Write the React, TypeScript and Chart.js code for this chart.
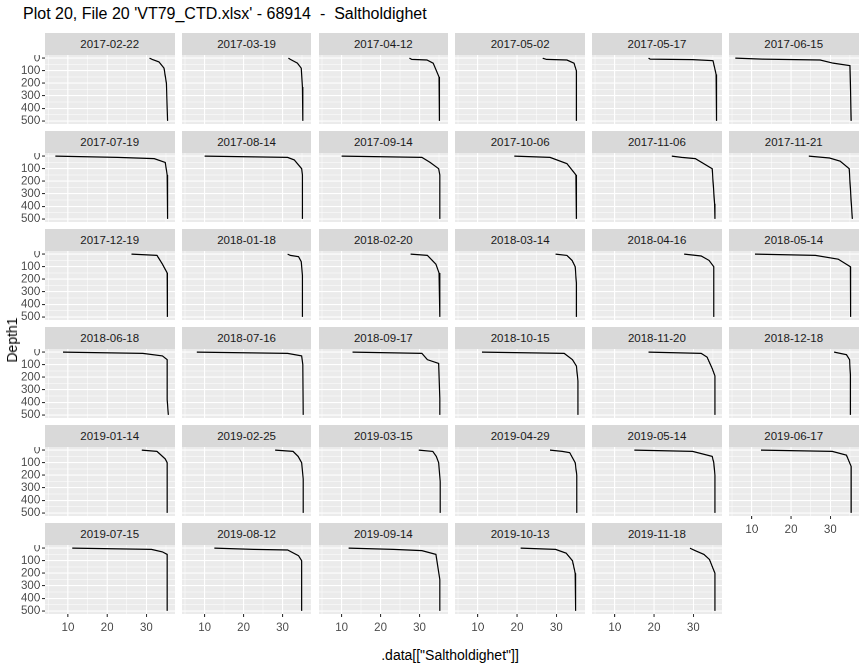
import { Chart, registerables } from "chart.js";
import React, { useEffect, useRef } from "react";

Chart.register(...registerables);

const dates = [
  "2017-02-22", "2017-03-19", "2017-04-12", "2017-05-02", "2017-05-17", "2017-06-15",
  "2017-07-19", "2017-08-14", "2017-09-14", "2017-10-06", "2017-11-06", "2017-11-21",
  "2017-12-19", "2018-01-18", "2018-02-20", "2018-03-14", "2018-04-16", "2018-05-14",
  "2018-06-18", "2018-07-16", "2018-09-17", "2018-10-15", "2018-11-20", "2018-12-18",
  "2019-01-14", "2019-02-25", "2019-03-15", "2019-04-29", "2019-05-14", "2019-06-17",
  "2019-07-15", "2019-08-12", "2019-09-14", "2019-10-13", "2019-11-18",
];

// salinity readings per cast (surface first)
const salinity: number[][] = [
  [30.8, 31.5, 33.2, 34.5, 35.1, 35.4],
  [31.5, 32.0, 33.8, 34.8, 35.1, 35.2],
  [27.4, 28.0, 31.9, 33.5, 35.0, 35.1],
  [26.5, 27.5, 32.7, 34.5, 35.1, 35.1],
  [18.6, 19.0, 29.8, 35.0, 35.8, 35.9],
  [5.8, 12.7, 27.4, 30.7, 35.0, 35.3],
  [6.8, 22.6, 32.0, 34.8, 35.3, 35.4],
  [10.0, 31.3, 33.0, 34.9, 35.1, 35.1],
  [10.0, 30.6, 32.7, 34.9, 35.2, 35.2],
  [19.3, 28.4, 32.7, 35.0, 35.1, 35.1],
  [24.5, 27.0, 30.5, 34.8, 35.4, 35.5],
  [24.5, 29.8, 32.5, 34.8, 35.3, 35.6],
  [26.2, 32.7, 34.1, 35.3, 35.3, 35.4],
  [31.3, 32.0, 34.1, 34.8, 35.1, 35.1],
  [27.7, 32.0, 34.2, 35.0, 35.2, 35.2],
  [29.8, 32.7, 34.0, 34.8, 35.1, 35.1],
  [27.7, 32.0, 34.0, 35.2, 35.2, 35.2],
  [10.8, 26.2, 32.0, 35.1, 35.1, 35.2],
  [8.7, 29.1, 34.1, 35.3, 35.3, 35.6],
  [8.0, 31.3, 34.9, 35.2, 35.2, 35.3],
  [12.8, 30.6, 32.0, 34.9, 35.2, 35.2],
  [11.1, 32.0, 34.1, 35.1, 35.5, 35.5],
  [18.6, 32.0, 33.5, 34.8, 35.5, 35.5],
  [31.0, 32.5, 34.1, 34.9, 35.1, 35.1],
  [28.8, 32.7, 34.8, 35.3, 35.3, 35.3],
  [28.1, 32.7, 34.0, 34.9, 35.3, 35.3],
  [29.8, 33.4, 34.3, 34.9, 35.3, 35.3],
  [28.4, 31.5, 33.4, 34.8, 35.2, 35.2],
  [15.0, 29.8, 34.8, 35.2, 35.5, 35.5],
  [12.3, 30.5, 34.1, 35.3, 35.3, 35.3],
  [11.1, 31.3, 34.1, 35.3, 35.3, 35.3],
  [12.5, 22.6, 31.3, 34.1, 34.9, 34.9],
  [11.8, 23.3, 30.6, 34.2, 35.2, 35.2],
  [20.9, 29.8, 32.5, 34.1, 34.8, 34.9],
  [29.1, 30.5, 32.7, 34.1, 35.5, 35.5],
];

const depths: number[][] = [
  [0, 10, 30, 80, 200, 500],
  [0, 10, 40, 80, 230, 500],
  [0, 10, 15, 40, 150, 500],
  [0, 10, 15, 40, 100, 500],
  [0, 8, 12, 20, 130, 500],
  [0, 8, 15, 40, 60, 500],
  [0, 10, 20, 50, 150, 500],
  [0, 10, 30, 100, 150, 500],
  [0, 10, 50, 100, 150, 500],
  [0, 10, 60, 150, 300, 500],
  [0, 10, 20, 100, 380, 500],
  [0, 15, 40, 100, 360, 500],
  [0, 10, 80, 150, 300, 500],
  [0, 10, 20, 60, 170, 500],
  [0, 10, 80, 150, 180, 500],
  [0, 10, 50, 100, 230, 500],
  [0, 15, 50, 100, 200, 500],
  [0, 10, 40, 100, 200, 500],
  [0, 10, 30, 60, 380, 500],
  [0, 10, 30, 100, 120, 500],
  [0, 10, 60, 90, 370, 500],
  [0, 10, 60, 110, 230, 500],
  [0, 10, 40, 130, 190, 500],
  [0, 10, 20, 60, 180, 500],
  [0, 10, 70, 100, 300, 500],
  [0, 10, 50, 100, 230, 500],
  [0, 10, 50, 100, 250, 500],
  [0, 10, 20, 100, 200, 500],
  [0, 10, 50, 100, 200, 500],
  [0, 10, 40, 130, 300, 500],
  [0, 10, 30, 50, 300, 500],
  [0, 10, 15, 60, 100, 500],
  [0, 10, 20, 50, 250, 500],
  [0, 10, 40, 100, 200, 500],
  [0, 20, 50, 90, 200, 500],
];

const xTicks = [5, 10, 15, 20, 25, 30, 35];
const xLabels = [10, 20, 30];
const yTicks = [0, 50, 100, 150, 200, 250, 300, 350, 400, 450, 500];
const yLabels = [0, 100, 200, 300, 400, 500];

const PLOT_LEFT = 45;
const PLOT_W = 129.5;
const COL_STEP = 136.8;
const STRIP_TOP = 33;
const STRIP_H = 22;
const PLOT_H = 69;
const ROW_STEP = 98;
const Y_AXIS_W = 37;
const X_AXIS_H = 22;
const FONT = "'Liberation Sans', Arial, sans-serif";

const bgPlugin = {
  id: "panelBg",
  beforeDraw(chart: Chart) {
    const { ctx, chartArea } = chart;
    ctx.save();
    ctx.fillStyle = "#EBEBEB";
    ctx.fillRect(chartArea.left, chartArea.top, chartArea.right - chartArea.left, chartArea.bottom - chartArea.top);
    ctx.restore();
  },
};

const Panel: React.FC<{ idx: number; showY: boolean; showX: boolean }> = ({ idx, showY, showX }) => {
  const ref = useRef<HTMLCanvasElement | null>(null);
  const col = idx % 6;
  const row = Math.floor(idx / 6);
  const w = PLOT_W + (showY ? Y_AXIS_W : 0);
  const h = PLOT_H + (showX ? X_AXIS_H : 0);
  const left = PLOT_LEFT + col * COL_STEP - (showY ? Y_AXIS_W : 0);
  const top = STRIP_TOP + row * ROW_STEP + STRIP_H;

  useEffect(() => {
    if (!ref.current) return;
    const major = (v: number, list: number[]) => list.includes(v);
    const chart = new Chart(ref.current, {
      type: "scatter",
      data: {
        datasets: [
          {
            data: salinity[idx].map((s, i) => ({ x: s, y: depths[idx][i] })),
            showLine: true,
            borderColor: "#000",
            borderWidth: 1.2,
            pointRadius: 0,
            tension: 0,
          },
        ],
      },
      options: {
        animation: false,
        responsive: false,
        devicePixelRatio: 2,
        layout: { padding: 0 },
        plugins: { legend: { display: false }, tooltip: { enabled: false } },
        scales: {
          x: {
            type: "linear",
            min: 4.2,
            max: 37.3,
            afterBuildTicks: (s: any) => {
              s.ticks = xTicks.map((v) => ({ value: v }));
            },
            afterFit: (s: any) => {
              s.height = showX ? X_AXIS_H : 0;
              s.paddingLeft = 0;
              s.paddingRight = 0;
            },
            border: { display: false },
            grid: {
              color: "#fff",
              lineWidth: (c: any) => (major(c.tick?.value, xLabels) ? 1.1 : 0.5),
              drawTicks: showX,
              tickLength: 3,
              tickColor: (c: any) => (major(c.tick?.value, xLabels) ? "#333" : "rgba(0,0,0,0)"),
            },
            ticks: {
              display: showX,
              padding: 4,
              maxRotation: 0,
              autoSkip: false,
              color: "#4D4D4D",
              font: { family: FONT, size: 11.5 },
              callback: (v: any) => (xLabels.includes(v) ? String(v) : ""),
            },
          },
          y: {
            type: "linear",
            reverse: true,
            min: -25,
            max: 525,
            afterBuildTicks: (s: any) => {
              s.ticks = yTicks.map((v) => ({ value: v }));
            },
            afterFit: (s: any) => {
              s.width = showY ? Y_AXIS_W : 0;
              s.paddingTop = 0;
              s.paddingBottom = 0;
            },
            border: { display: false },
            grid: {
              color: "#fff",
              lineWidth: (c: any) => (major(c.tick?.value, yLabels) ? 1.1 : 0.5),
              drawTicks: showY,
              tickLength: 3,
              tickColor: (c: any) => (major(c.tick?.value, yLabels) ? "#333" : "rgba(0,0,0,0)"),
            },
            ticks: {
              display: showY,
              padding: 2,
              autoSkip: false,
              color: "#4D4D4D",
              font: { family: FONT, size: 11.5 },
              callback: (v: any) => (yLabels.includes(v) ? String(v) : ""),
            },
          },
        },
      },
      plugins: [bgPlugin],
    });
    return () => chart.destroy();
  }, [idx, showX, showY]);

  return (
    <>
      <div
        style={{
          position: "absolute",
          left: PLOT_LEFT + col * COL_STEP,
          top: STRIP_TOP + row * ROW_STEP,
          width: PLOT_W,
          height: STRIP_H,
          background: "#D9D9D9",
          color: "#1A1A1A",
          font: `11.5px ${FONT}`,
          display: "flex",
          alignItems: "center",
          justifyContent: "center",
        }}
      >
        {dates[idx]}
      </div>
      <canvas
        ref={ref}
        width={w}
        height={h}
        style={{ position: "absolute", left, top, width: w, height: h }}
      />
    </>
  );
};

export default function App() {
  const n = dates.length;
  return (
    <div style={{ position: "fixed", left: 0, top: 0, width: 864, height: 672, background: "#fff", fontFamily: FONT }}>
      <div style={{ position: "absolute", left: 23, top: 5, fontSize: 16, color: "#000" }}>
        Plot 20, File 20 'VT79_CTD.xlsx' - 68914 &nbsp;- &nbsp;Saltholdighet
      </div>
      {dates.map((d, i) => (
        <Panel key={d} idx={i} showY={i % 6 === 0} showX={i + 6 >= n} />
      ))}
      <div
        style={{
          position: "absolute",
          left: 12,
          top: 340,
          fontSize: 14,
          transform: "translate(-50%, -50%) rotate(-90deg)",
          whiteSpace: "nowrap",
        }}
      >
        Depth1
      </div>
      <div style={{ position: "absolute", left: 450, top: 647, fontSize: 14, transform: "translateX(-50%)", whiteSpace: "nowrap" }}>
        .data[["Saltholdighet"]]
      </div>
    </div>
  );
}
